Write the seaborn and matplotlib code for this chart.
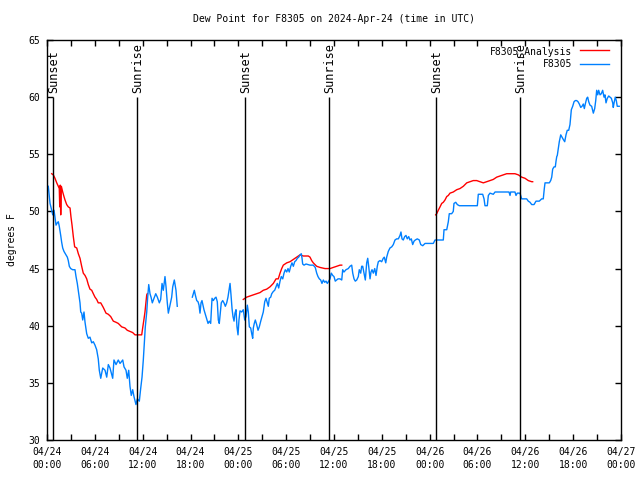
import numpy as np
import pandas as pd
import matplotlib
matplotlib.use('Agg')
import matplotlib.pyplot as plt
import seaborn as sns

# Hours since 2024-04-24 00:00 UTC, dew point in degrees F
# Station observations (two pieces, gap around 04/24 16:00-18:00)
obs_part1 = [
    (0.16, 52.2), (0.38, 50.7), (0.59, 50.1), (0.72, 49.7), (0.88, 50.1), (1.00, 49.5),
    (1.13, 48.8), (1.29, 49.0), (1.42, 49.1), (1.54, 48.7), (1.72, 47.9), (1.84, 47.3),
    (1.97, 46.8), (2.13, 46.5), (2.38, 46.2), (2.55, 46.0), (2.67, 45.7), (2.80, 45.2),
    (2.97, 45.0), (3.22, 44.9), (3.51, 44.9), (3.64, 44.3), (3.80, 43.7), (3.98, 42.8),
    (4.14, 42.0), (4.23, 41.2), (4.35, 41.1), (4.48, 40.5), (4.64, 41.2), (4.77, 40.3),
    (4.98, 39.3), (5.18, 38.9), (5.39, 39.0), (5.61, 38.5), (5.81, 38.6), (6.02, 38.3),
    (6.23, 37.9), (6.43, 37.1), (6.56, 36.1), (6.74, 35.4), (6.99, 36.3), (7.28, 36.1),
    (7.49, 35.5), (7.69, 36.6), (7.90, 36.3), (8.24, 35.4), (8.40, 37.0), (8.66, 36.6),
    (8.94, 37.0), (9.16, 36.7), (9.50, 37.0), (9.66, 36.4), (9.91, 36.1), (10.07, 35.4),
    (10.25, 36.1), (10.41, 34.7), (10.57, 33.9), (10.75, 34.4), (10.91, 33.8), (11.16, 33.1),
    (11.33, 33.6), (11.58, 33.4), (11.75, 34.5), (11.92, 35.5), (12.08, 37.0), (12.21, 38.5),
    (12.33, 39.9), (12.51, 41.2), (12.63, 42.5), (12.76, 43.6), (12.92, 42.8), (13.05, 42.5),
    (13.21, 42.0), (13.42, 42.4), (13.64, 42.8), (13.84, 42.5), (14.09, 42.0), (14.26, 42.3),
    (14.43, 43.7), (14.59, 43.1), (14.80, 44.3), (14.93, 43.4), (15.09, 42.0), (15.22, 41.1),
    (15.43, 41.8), (15.64, 42.5), (15.77, 43.4), (15.97, 44.0), (16.18, 43.1), (16.34, 41.7),
]
obs_part2 = [
    (18.23, 42.5), (18.35, 42.8), (18.48, 43.1), (18.60, 42.7), (18.78, 42.2), (18.94, 42.1),
    (19.07, 41.8), (19.19, 41.1), (19.32, 42.0), (19.44, 42.2), (19.57, 41.8), (19.69, 41.4),
    (19.86, 41.0), (20.03, 40.6), (20.20, 40.2), (20.36, 40.4), (20.53, 40.2), (20.70, 42.4),
    (20.86, 42.2), (21.04, 42.4), (21.20, 42.5), (21.36, 42.1), (21.49, 40.5), (21.61, 40.2),
    (21.74, 41.1), (21.86, 42.0), (22.04, 42.2), (22.20, 42.0), (22.37, 41.7), (22.54, 42.0),
    (22.70, 42.5), (22.83, 43.1), (22.96, 43.7), (23.08, 42.7), (23.21, 41.5), (23.33, 40.8),
    (23.46, 40.4), (23.58, 41.1), (23.71, 41.4), (23.83, 39.9), (23.96, 39.2), (24.08, 40.5),
    (24.21, 41.3), (24.42, 41.2), (24.62, 41.4), (24.80, 40.5), (24.96, 40.8), (25.13, 41.8),
    (25.25, 41.2), (25.38, 39.9), (25.55, 39.8), (25.68, 39.3), (25.80, 38.9), (25.88, 39.8),
    (26.00, 40.2), (26.13, 40.5), (26.30, 40.1), (26.47, 39.6), (26.63, 39.9), (26.81, 40.4),
    (26.97, 40.8), (27.13, 41.2), (27.31, 42.1), (27.47, 42.4), (27.64, 42.0), (27.76, 41.7),
    (27.88, 42.4), (28.06, 42.5), (28.19, 42.8), (28.39, 43.0), (28.56, 43.1), (28.73, 43.4),
    (28.89, 43.7), (29.06, 43.3), (29.23, 43.9), (29.39, 44.3), (29.57, 44.1), (29.73, 44.6),
    (29.89, 44.9), (30.07, 44.7), (30.23, 45.0), (30.39, 44.7), (30.57, 45.2), (30.73, 45.5),
    (30.90, 45.2), (31.07, 45.6), (31.23, 45.7), (31.40, 45.9), (31.57, 46.0), (31.74, 46.2),
    (31.90, 46.3), (31.99, 45.9), (32.07, 45.4), (32.24, 45.3), (32.49, 45.4), (32.99, 45.3),
    (33.40, 45.3), (33.65, 45.1), (33.83, 44.6), (33.99, 44.3), (34.16, 44.1), (34.33, 44.0),
    (34.49, 43.7), (34.66, 44.0), (34.83, 43.8), (35.00, 43.9), (35.16, 43.7), (35.34, 43.9),
    (35.50, 44.1), (35.66, 44.6), (35.84, 44.4), (36.00, 44.3), (36.16, 43.9), (36.34, 44.0),
    (36.50, 44.1), (36.75, 44.1), (36.97, 44.0), (37.09, 44.9), (37.25, 44.7), (37.50, 44.9),
    (37.79, 45.0), (38.01, 45.2), (38.22, 45.3), (38.35, 44.6), (38.51, 44.1), (38.67, 43.9),
    (38.85, 44.0), (39.05, 44.3), (39.17, 44.9), (39.35, 44.6), (39.47, 45.2), (39.60, 45.2),
    (39.76, 44.6), (39.93, 44.0), (40.10, 45.5), (40.23, 45.9), (40.35, 45.2), (40.52, 44.1),
    (40.64, 44.7), (40.77, 44.9), (40.93, 44.6), (41.11, 45.0), (41.27, 44.4), (41.43, 45.2),
    (41.56, 45.6), (41.77, 45.7), (41.98, 45.6), (42.18, 45.9), (42.31, 46.0), (42.49, 45.5),
    (42.61, 46.0), (42.81, 46.5), (43.02, 46.8), (43.24, 46.9), (43.44, 47.1), (43.65, 47.5),
    (43.86, 47.6), (44.07, 47.6), (44.28, 47.9), (44.40, 48.2), (44.53, 47.6), (44.69, 47.5),
    (44.87, 47.8), (45.03, 47.9), (45.19, 47.6), (45.37, 47.8), (45.53, 47.5), (45.70, 47.6),
    (45.87, 47.1), (46.04, 47.4), (46.20, 47.5), (46.45, 47.6), (46.70, 47.5), (46.88, 47.1),
    (47.13, 47.0), (47.42, 47.2), (48.46, 47.2), (48.67, 47.5), (49.71, 47.5), (49.80, 48.4),
    (50.14, 48.4), (50.34, 49.1), (50.46, 49.8), (50.76, 49.8), (50.96, 50.0), (51.05, 50.7),
    (51.27, 50.8), (51.47, 50.6), (51.72, 50.5), (53.98, 50.5), (54.10, 51.5), (54.65, 51.5),
    (54.82, 51.1), (54.94, 50.5), (55.23, 50.5), (55.36, 51.4), (55.57, 51.6), (55.98, 51.5),
    (56.20, 51.7), (57.95, 51.7), (58.08, 51.4), (58.16, 51.7), (58.70, 51.7), (58.83, 51.4),
    (58.99, 51.6), (59.33, 51.6), (59.54, 51.1), (60.17, 51.1), (60.37, 50.9), (60.59, 50.8),
    (60.80, 50.6), (61.09, 50.6), (61.34, 50.9), (61.75, 50.9), (62.05, 51.1), (62.25, 51.1),
    (62.38, 52.0), (62.47, 52.5), (63.01, 52.5), (63.18, 52.7), (63.31, 53.0), (63.43, 53.7),
    (63.60, 53.9), (63.76, 53.9), (63.85, 54.4), (63.94, 54.8), (64.01, 54.9), (64.14, 55.5),
    (64.26, 56.1), (64.44, 56.7), (64.60, 56.5), (64.76, 56.3), (64.94, 56.1), (65.10, 56.7),
    (65.26, 57.1), (65.44, 57.1), (65.60, 57.6), (65.69, 58.3), (65.77, 58.9), (65.94, 59.2),
    (66.11, 59.6), (66.27, 59.7), (66.44, 59.7), (66.61, 59.6), (66.77, 59.4), (66.95, 59.1),
    (67.11, 59.2), (67.27, 59.4), (67.40, 59.0), (67.52, 59.4), (67.70, 59.9), (67.82, 60.0),
    (67.95, 59.6), (68.11, 59.3), (68.32, 59.2), (68.53, 58.6), (68.70, 59.0), (68.83, 59.7),
    (68.95, 60.6), (69.08, 60.2), (69.20, 60.6), (69.37, 60.2), (69.53, 60.3), (69.70, 60.6),
    (69.87, 60.0), (69.99, 60.2), (70.12, 59.5), (70.28, 59.9), (70.46, 60.1), (70.62, 60.0),
    (70.79, 59.9), (70.96, 59.5), (71.03, 59.1), (71.16, 59.6), (71.28, 60.0), (71.41, 59.7),
    (71.53, 59.2), (71.78, 59.2),
]

# Analysis (three evening-to-morning pieces)
ana_part1 = [
    (0.59, 53.3), (0.79, 53.2), (1.00, 52.9), (1.22, 52.5), (1.42, 52.2), (1.54, 52.0),
    (1.60, 50.4), (1.66, 52.3), (1.72, 49.7), (1.80, 52.2), (1.97, 51.7), (2.13, 51.3),
    (2.26, 51.0), (2.47, 50.6), (2.67, 50.4), (2.89, 50.3), (3.01, 49.5), (3.14, 48.8),
    (3.30, 47.8), (3.47, 46.9), (3.73, 46.8), (3.93, 46.3), (4.14, 45.9), (4.35, 45.2),
    (4.55, 44.6), (4.77, 44.4), (4.98, 44.1), (5.18, 43.6), (5.39, 43.2), (5.61, 43.1),
    (5.81, 42.8), (6.02, 42.5), (6.23, 42.3), (6.43, 42.0), (6.74, 42.0), (7.06, 41.6),
    (7.40, 41.1), (7.69, 41.0), (7.99, 40.8), (8.32, 40.4), (8.66, 40.3), (8.94, 40.2),
    (9.37, 39.9), (9.78, 39.8), (10.07, 39.6), (10.41, 39.5), (10.75, 39.4), (11.04, 39.2),
    (11.33, 39.2), (11.88, 39.2), (12.00, 39.8), (12.17, 40.6), (12.29, 41.2), (12.42, 42.1),
    (12.51, 42.7), (12.58, 42.8),
]
ana_part2 = [
    (24.62, 42.3), (25.05, 42.5), (25.46, 42.6), (25.88, 42.7), (26.30, 42.8), (26.72, 42.9),
    (27.13, 43.1), (27.56, 43.2), (27.97, 43.4), (28.39, 43.7), (28.73, 44.1), (29.01, 44.1),
    (29.23, 44.6), (29.44, 45.0), (29.64, 45.3), (30.07, 45.5), (30.48, 45.6), (30.90, 45.8),
    (31.32, 46.0), (31.74, 46.2), (32.15, 46.1), (32.78, 46.1), (32.99, 46.0), (33.20, 45.7),
    (33.40, 45.5), (33.83, 45.2), (34.24, 45.1), (34.87, 45.0), (35.50, 45.0), (35.91, 45.1),
    (36.34, 45.2), (36.75, 45.3), (36.97, 45.3),
]
ana_part3 = [
    (48.76, 49.7), (48.88, 49.8), (49.08, 50.1), (49.30, 50.4), (49.51, 50.7), (49.71, 50.8),
    (49.92, 51.0), (50.14, 51.3), (50.34, 51.4), (50.55, 51.6), (50.96, 51.7), (51.39, 51.9),
    (51.80, 52.0), (52.22, 52.2), (52.65, 52.5), (53.06, 52.6), (53.47, 52.7), (53.90, 52.7),
    (54.31, 52.6), (54.73, 52.5), (55.15, 52.6), (55.57, 52.7), (55.98, 52.8), (56.41, 53.0),
    (56.82, 53.1), (57.24, 53.2), (57.66, 53.3), (58.70, 53.3), (59.12, 53.2), (59.54, 53.0),
    (59.96, 52.9), (60.37, 52.7), (60.80, 52.6), (60.92, 52.6),
]

# Sunset / sunrise markers (hours since 04/24 00:00 UTC)
event_hours = [0.79, 11.33, 24.88, 35.41, 48.84, 59.37]
event_names = ['Sunset', 'Sunrise', 'Sunset', 'Sunrise', 'Sunset', 'Sunrise']

# X tick labels every 6 hours
tick_hours = list(range(0, 73, 6))
tick_labels = ['04/24\n00:00', '04/24\n06:00', '04/24\n12:00', '04/24\n18:00',
               '04/25\n00:00', '04/25\n06:00', '04/25\n12:00', '04/25\n18:00',
               '04/26\n00:00', '04/26\n06:00', '04/26\n12:00', '04/26\n18:00',
               '04/27\n00:00']

# Build long dataframe
frames = []
for name, seg, part in [('F8305_Analysis', 'a1', ana_part1), ('F8305_Analysis', 'a2', ana_part2),
                        ('F8305_Analysis', 'a3', ana_part3), ('F8305', 'o1', obs_part1),
                        ('F8305', 'o2', obs_part2)]:
    d = pd.DataFrame(part, columns=['hour', 'dewpoint'])
    d['series'] = name
    d['seg'] = seg
    frames.append(d)
df = pd.concat(frames, ignore_index=True)

plt.rcParams['font.family'] = ['DejaVu Sans Mono']
plt.rcParams['font.size'] = 7

fig = plt.figure(figsize=(6.4, 4.8), dpi=100)
ax = fig.add_axes([47 / 640, 40 / 480, 574 / 640, 400 / 480])

sns.lineplot(data=df, x='hour', y='dewpoint', hue='series', units='seg', estimator=None,
             hue_order=['F8305_Analysis', 'F8305'], palette=['#ff0000', '#0080ff'],
             sort=False, linewidth=1, ax=ax)

# Sunset / sunrise lines with labels
ax.vlines(event_hours, 30, 60, color='black', linewidth=1)
for h, name in zip(event_hours, event_names):
    ax.text(h, 60.4, name, rotation=90, ha='center', va='bottom', fontsize=8.5)

ax.set_xlim(0, 72)
ax.set_ylim(30, 65)
ax.set_xticks(tick_hours)
ax.set_xticklabels(tick_labels, linespacing=1.4)
ax.set_xticks(np.arange(0, 73, 3), minor=True)
ax.set_yticks(np.arange(30, 66, 5))
ax.tick_params(which='both', direction='in', top=True, right=True, length=4, width=1,
               pad=5, labelsize=7)

ax.set_xlabel('')
ax.set_ylabel('degrees F', labelpad=8, fontsize=7)
ax.set_title('Dew Point for F8305 on 2024-Apr-24 (time in UTC)', pad=13, fontsize=7)

for s in ax.spines.values():
    s.set_color('black')
    s.set_linewidth(1)

handles, labels = ax.get_legend_handles_labels()
ax.legend(handles, labels, loc='upper right', bbox_to_anchor=(0.99, 1.0), frameon=False,
          markerfirst=False, handlelength=3, labelspacing=0.25, borderaxespad=0.2, fontsize=7)

fig.savefig('out.png', dpi=100)
